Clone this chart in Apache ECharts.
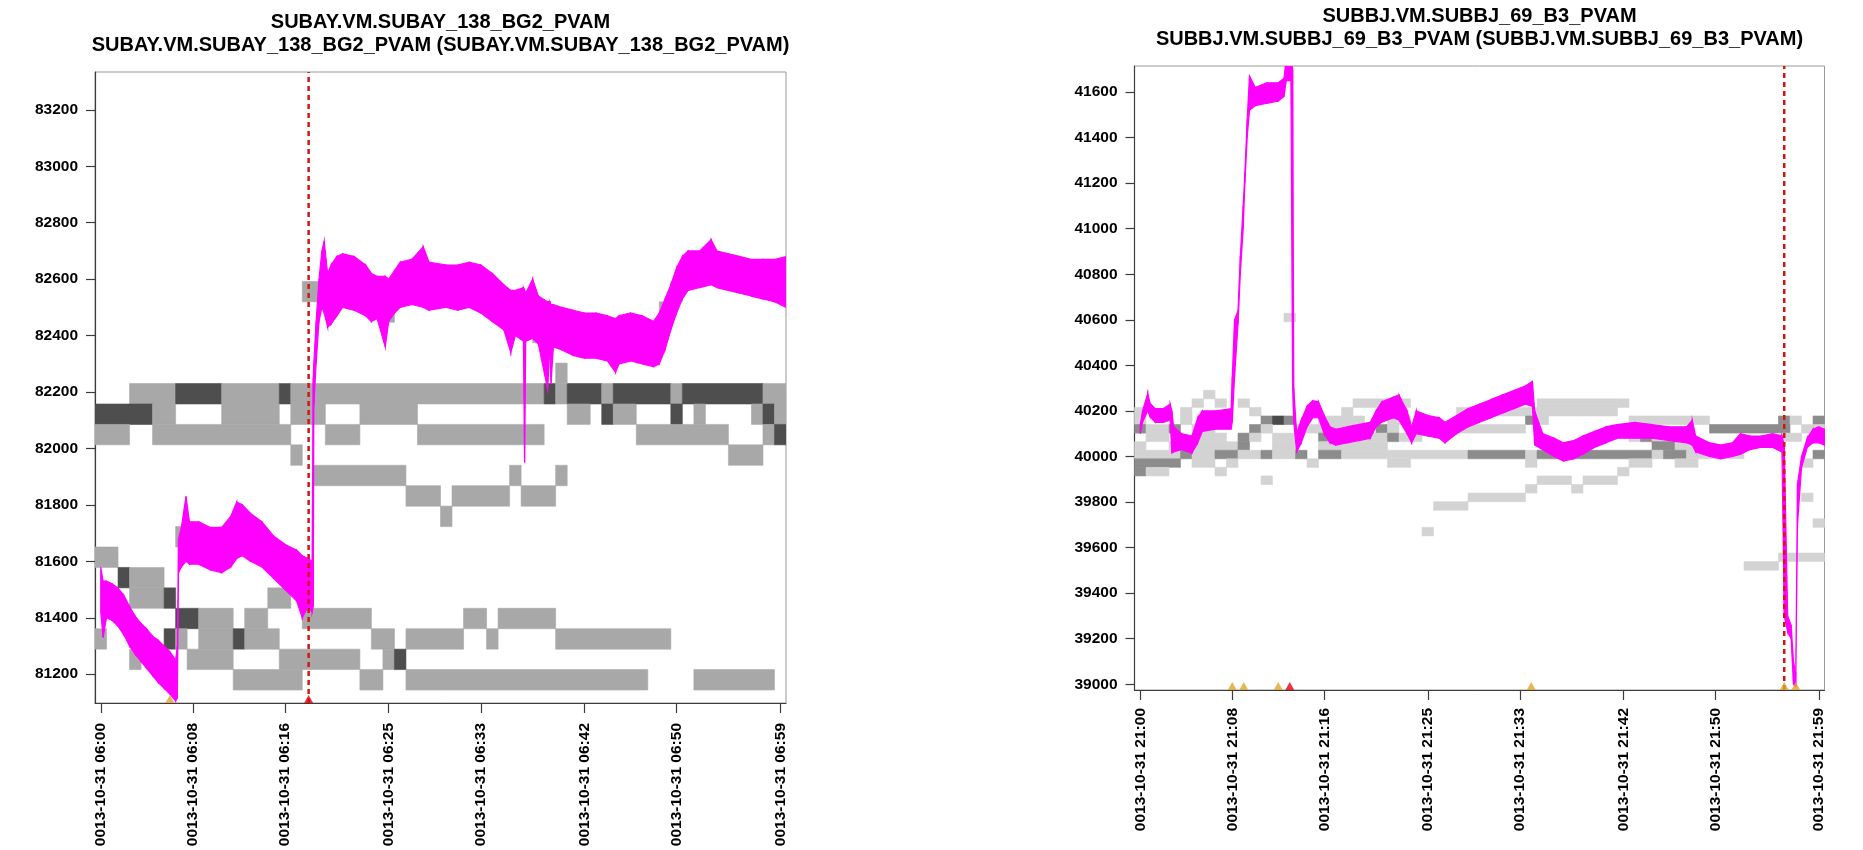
<!DOCTYPE html>
<html><head><meta charset="utf-8">
<script src="https://cdn.jsdelivr.net/npm/echarts@6.0.0/dist/echarts.min.js"></script>
<style>html,body{margin:0;padding:0;background:#fff}#c{width:1863px;height:850px}</style>
</head><body><div id="c"></div>
<script>
// ---------------- DATA ----------------
const leftTitle1 = 'SUBAY.VM.SUBAY_138_BG2_PVAM';
const leftTitle2 = 'SUBAY.VM.SUBAY_138_BG2_PVAM (SUBAY.VM.SUBAY_138_BG2_PVAM)';
const rightTitle1 = 'SUBBJ.VM.SUBBJ_69_B3_PVAM';
const rightTitle2 = 'SUBBJ.VM.SUBBJ_69_B3_PVAM (SUBBJ.VM.SUBBJ_69_B3_PVAM)';

// x tick positions (minutes after the hour) and their labels
const tickMinutes = [0, 8, 16, 25, 33, 42, 50, 59];
const leftTickLabels = ['0013-10-31 06:00','0013-10-31 06:08','0013-10-31 06:16','0013-10-31 06:25','0013-10-31 06:33','0013-10-31 06:42','0013-10-31 06:50','0013-10-31 06:59'];
const rightTickLabels = ['0013-10-31 21:00','0013-10-31 21:08','0013-10-31 21:16','0013-10-31 21:25','0013-10-31 21:33','0013-10-31 21:42','0013-10-31 21:50','0013-10-31 21:59'];
const leftYTicks = [81200, 81400, 81600, 81800, 82000, 82200, 82400, 82600, 82800, 83000, 83200];
const rightYTicks = [39000, 39200, 39400, 39600, 39800, 40000, 40200, 40400, 40600, 40800, 41000, 41200, 41400, 41600];

// value bins of the gray histogram cells
const leftBinStart = 81144, leftBinWidth = 72.4;
const rightBinStart = 39501, rightBinWidth = 37.6;

// gray cells: [binRow, firstMinute, lastMinute, level]
const leftCells = [
 [14,3,6,1],[14,7,10,2],[14,11,15,1],[14,16,16,2],[14,17,38,1],[14,39,39,2],[14,40,40,1],[14,41,43,2],[14,44,44,1],[14,45,49,2],[14,50,50,1],[14,51,57,2],[14,58,59,1],
 [13,0,4,2],[13,5,6,1],[13,11,15,1],[13,17,19,1],[13,23,27,1],[13,41,42,1],[13,44,44,2],[13,45,46,1],[13,50,50,2],[13,52,52,1],[13,57,57,1],[13,58,58,2],[13,59,59,1],
 [12,0,2,1],[12,5,16,1],[12,20,22,1],[12,28,38,1],[12,47,54,1],[12,58,58,1],[12,59,59,2],
 [11,17,17,1],[11,55,57,1],
 [10,19,26,1],[10,36,36,1],[10,40,40,1],
 [9,27,29,1],[9,31,35,1],[9,37,39,1],
 [8,30,30,1],
 [7,7,7,1],
 [6,0,1,1],
 [5,2,2,2],[5,3,5,1],
 [4,3,5,1],[4,6,6,2],[4,15,16,1],
 [3,7,8,2],[3,9,11,1],[3,13,14,1],[3,18,23,1],[3,32,33,1],[3,35,39,1],
 [2,0,0,1],[2,6,6,2],[2,7,7,1],[2,9,11,1],[2,12,12,2],[2,13,15,1],[2,24,25,1],[2,27,31,1],[2,34,34,1],[2,40,49,1],
 [1,3,3,1],[1,8,11,1],[1,16,22,1],[1,25,25,1],[1,26,26,2],
 [0,12,17,1],[0,23,24,1],[0,27,47,1],[0,52,58,1],
 [15,40,40,1],[19,18,19,1],[18,25,25,1],[17,38,38,1],[16,47,48,1],[17,48,48,1],[18,49,49,1],[19,50,50,1],[20,51,51,1]
];
const rightCells = [
 [29,13,13,1],
 [20,6,6,1],
 [19,5,5,1],[19,7,7,1],[19,9,9,1],[19,19,23,1],[19,35,41,1],[19,42,42,1],
 [18,0,0,1],[18,4,4,1],[18,10,10,1],[18,18,18,1],[18,28,34,1],[18,35,41,1],
 [17,0,0,1],[17,4,4,1],[17,11,11,2],[17,12,12,3],[17,13,13,2],[17,16,19,1],[17,22,23,1],[17,34,34,2],[17,35,35,1],[17,43,49,1],[17,56,56,2],[17,57,57,1],[17,59,59,2],
 [16,0,0,2],[16,1,2,1],[16,3,3,2],[16,5,6,1],[16,10,10,2],[16,11,11,1],[16,14,19,1],[16,21,21,2],[16,22,22,1],[16,28,33,1],[16,50,56,2],[16,58,59,1],
 [15,1,2,1],[15,5,7,1],[15,9,9,2],[15,10,10,1],[15,12,13,1],[15,16,17,2],[15,18,21,1],[15,22,22,2],[15,23,24,1],[15,43,43,1],[15,44,44,2],[15,45,47,1],[15,56,57,1],
 [14,0,0,1],[14,3,3,1],[14,5,8,1],[14,9,9,2],[14,12,13,1],[14,16,21,1],[14,45,46,2],[14,47,48,1],
 [13,0,3,1],[13,4,4,2],[13,5,6,1],[13,7,8,2],[13,9,10,1],[13,11,11,2],[13,12,13,1],[13,14,14,2],[13,16,17,2],[13,18,28,1],[13,29,33,2],[13,34,34,1],[13,35,44,2],[13,45,45,1],[13,46,47,2],[13,48,52,1],[13,59,59,2],
 [12,0,3,2],[12,5,6,1],[12,8,8,1],[12,15,15,1],[12,22,23,1],[12,34,34,1],[12,43,44,1],[12,47,48,1],[12,58,58,1],
 [11,0,0,2],[11,1,2,1],[11,7,7,1],[11,42,42,1],
 [10,11,11,1],[10,35,37,1],[10,39,41,1],
 [9,34,34,1],[9,38,38,1],
 [8,29,33,1],[8,58,58,1],
 [7,26,28,1],
 [5,59,59,1],
 [4,25,25,1],
 [1,56,59,1],
 [0,53,55,1]
];

// magenta trace envelope: time (min), low and high of the noisy trace
const leftT  = [0.0,0.2,0.5,1.0,1.5,2.0,2.5,3.0,3.5,4.0,4.5,5.0,5.5,6.0,6.5,6.65,6.75,7.0,7.4,7.7,8.5,9.5,10.5,11.3,11.8,12.3,13.0,14.0,15.0,16.0,17.0,17.5,18.0,18.35,18.45,18.5,18.7,18.95,19.2,19.4,19.7,20.0,20.5,21.0,22.0,23.0,23.5,24.0,24.7,25.0,25.5,26.0,27.0,28.0,28.5,30.0,31.0,32.0,33.0,34.0,35.0,35.6,36.0,36.7,36.8,36.9,37.5,38.0,38.8,39.0,39.1,39.3,40.0,41.0,42.0,43.0,44.0,44.7,45.0,46.0,47.0,48.0,48.5,49.0,49.5,50.0,50.5,51.0,52.0,53.0,53.5,54.5,55.5,56.5,57.5,58.5,59.5];
const leftLo = [81420,81330,81400,81390,81370,81340,81300,81270,81245,81220,81195,81170,81150,81130,81105,81115,81560,81580,81600,81590,81590,81570,81560,81580,81610,81620,81600,81580,81540,81500,81460,81400,81440,81420,81440,82150,82300,82450,82500,82480,82430,82440,82470,82500,82490,82470,82450,82460,82360,82450,82480,82500,82510,82500,82490,82500,82490,82500,82480,82450,82420,82340,82400,82380,81950,82380,82390,82370,82210,82360,82230,82360,82350,82330,82320,82320,82310,82270,82300,82310,82300,82290,82300,82350,82420,82480,82530,82560,82570,82580,82570,82560,82550,82540,82530,82520,82500];
const leftHi = [81580,81530,81530,81520,81505,81480,81440,81405,81380,81360,81335,81320,81300,81280,81250,81300,81680,81720,81830,81740,81740,81720,81720,81760,81810,81800,81770,81740,81690,81660,81640,81620,81610,81600,82250,82300,82450,82600,82700,82735,82620,82650,82680,82690,82680,82650,82620,82610,82610,82600,82630,82660,82670,82715,82660,82650,82650,82660,82650,82620,82580,82560,82560,82570,82560,82550,82600,82540,82520,82520,82510,82510,82500,82490,82480,82480,82470,82460,82470,82480,82470,82450,82480,82530,82580,82640,82680,82700,82700,82740,82700,82690,82680,82670,82670,82670,82680];

const rightT  = [0.0,0.2,0.65,0.85,1.3,2.0,2.6,2.75,2.9,3.6,4.5,5.0,5.4,6.5,7.9,8.0,8.2,8.5,8.7,8.95,9.1,9.3,9.5,10.0,11.0,12.0,12.5,12.7,13.1,13.25,13.35,13.6,14.0,14.5,15.0,15.5,16.0,16.5,17.0,18.0,19.0,20.0,20.5,21.0,22.0,22.5,23.2,23.6,24.0,25.0,26.0,26.5,27.5,28.5,29.5,30.5,31.5,32.5,33.5,34.1,34.3,35.0,36.0,36.8,37.7,38.5,39.5,40.5,41.5,43.0,44.5,46.0,47.5,48.0,48.3,49.5,50.5,51.5,52.2,53.0,54.0,55.0,55.8,56.0,56.3,56.6,56.8,57.0,57.15,57.5,58.0,58.5,59.0,59.5];
const rightLo = [40100,40150,40200,40175,40150,40150,40160,40015,40020,40030,40015,40060,40110,40120,40120,40150,40350,40580,40800,41000,41200,41400,41520,41540,41550,41560,41580,41650,41650,40300,40150,40020,40060,40130,40170,40170,40100,40060,40050,40060,40070,40080,40130,40150,40170,40160,40100,40060,40100,40090,40080,40060,40100,40130,40150,40170,40190,40210,40230,40220,40050,40030,40000,39980,39990,40010,40040,40060,40080,40080,40080,40070,40060,40050,40020,40000,39990,40000,40010,40030,40040,40040,40020,39300,39230,39200,39000,38990,39700,39950,40040,40060,40060,40050];
const rightHi = [40140,40200,40277,40234,40210,40210,40230,40200,40130,40100,40090,40170,40200,40200,40210,40350,40600,40640,40880,41100,41250,41480,41670,41620,41640,41640,41660,41750,41750,41700,40300,40100,40160,40220,40245,40240,40180,40130,40120,40130,40140,40150,40200,40240,40260,40270,40200,40130,40200,40180,40170,40150,40180,40210,40230,40250,40270,40290,40310,40330,40200,40100,40080,40060,40070,40090,40110,40130,40140,40150,40140,40130,40130,40160,40090,40060,40050,40060,40100,40090,40090,40100,40090,40050,39300,39260,39100,39050,39880,40000,40080,40120,40130,40120];

// event markers (minutes)
const leftWarnTimes = [6.0];
const leftAlarmTimes = [18.05];
const leftAlarmLine = 18.05;
const rightWarnTimes = [8.0, 9.0, 12.0, 34.0, 56.0, 57.0];
const rightAlarmTimes = [13.0];
const rightAlarmLine = 56.0;

// ---------------- LAYOUT / STYLE ----------------
const FONT = "'Liberation Sans', Arial, Helvetica, sans-serif";
const X_MIN = -0.5, X_MAX = 59.5;
const L_YMIN = 81098, L_YMAX = 83334;
const R_YMIN = 38975, R_YMAX = 41714;
const leftPalette = {1:'#A8A8A8', 2:'#4E4E4E'};
const rightPalette = {1:'#D3D3D3', 2:'#8C8C8C', 3:'#4A4A4A'};

function cellsData(runs, base, step) {
  return runs.map(r => [r[1] - 0.5, r[2] + 0.5, base + r[0] * step, base + (r[0] + 1) * step, r[3]]);
}
function bandData(t, lo, hi) {
  const out = [];
  for (let i = 0; i < t.length - 1; i++) out.push([t[i], lo[i], hi[i], t[i + 1], lo[i + 1], hi[i + 1]]);
  return out;
}
function cellRenderer(palette) {
  return function (params, api) {
    const p0 = api.coord([api.value(0), api.value(2)]);
    const p1 = api.coord([api.value(1), api.value(3)]);
    const c = palette[api.value(4)];
    return {type: 'rect', shape: {x: p0[0], y: p1[1], width: p1[0] - p0[0], height: p0[1] - p1[1]},
            style: {fill: c, stroke: c, lineWidth: 0.6}};
  };
}
function bandRenderer(params, api) {
  const a = api.coord([api.value(0), api.value(1)]);
  const b = api.coord([api.value(3), api.value(4)]);
  const c = api.coord([api.value(3), api.value(5)]);
  const d = api.coord([api.value(0), api.value(2)]);
  return {type: 'polygon', shape: {points: [a, b, c, d]},
          style: {fill: '#FF00FF', stroke: '#FF00FF', lineWidth: 1.2}};
}

function xAxisDef(gi, labels, margin) {
  return {
    type: 'value', gridIndex: gi, min: X_MIN, max: X_MAX,
    axisLine: {show: true, onZero: false, lineStyle: {color: '#3c3c3c', width: 1.2}},
    axisTick: {show: true, customValues: tickMinutes, length: 10, lineStyle: {color: '#3c3c3c', width: 1.2}},
    axisLabel: {show: true, customValues: tickMinutes, rotate: 90, margin: margin,
      fontSize: 15.5, fontWeight: 'bold', color: '#000', fontFamily: FONT,
      formatter: v => labels[tickMinutes.indexOf(v)] || ''},
    splitLine: {show: false}
  };
}
function yAxisDef(gi, ticks, min, max) {
  return {
    type: 'value', gridIndex: gi, min: min, max: max,
    axisLine: {show: true, onZero: false, lineStyle: {color: '#3c3c3c', width: 1.2}},
    axisTick: {show: true, customValues: ticks, length: 9, lineStyle: {color: '#3c3c3c', width: 1.2}},
    axisLabel: {show: true, customValues: ticks, margin: 17, fontSize: 15.5, fontWeight: 'bold',
      color: '#000', fontFamily: FONT, formatter: v => String(v)},
    splitLine: {show: false}
  };
}
function titleText(x, y, text) {
  return {type: 'text', x: x, y: y, z: 100,
    style: {text: text, font: 'bold 20px ' + FONT, fill: '#000',
      align: 'center', verticalAlign: 'middle', textAlign: 'center', textVerticalAlign: 'middle'}};
}

const chart = echarts.init(document.getElementById('c'));
chart.setOption({
  backgroundColor: '#fff',
  animation: false,
  grid: [
    {left: 95, top: 72, width: 691, height: 631, show: true, borderColor: '#9a9a9a', borderWidth: 1, backgroundColor: 'transparent'},
    {left: 1134.5, top: 66, width: 690, height: 624, show: true, borderColor: '#9a9a9a', borderWidth: 1, backgroundColor: 'transparent'}
  ],
  xAxis: [xAxisDef(0, leftTickLabels, 20), xAxisDef(1, rightTickLabels, 18)],
  yAxis: [yAxisDef(0, leftYTicks, L_YMIN, L_YMAX), yAxisDef(1, rightYTicks, R_YMIN, R_YMAX)],
  graphic: [
    titleText(440.5, 22, leftTitle1), titleText(440.5, 45, leftTitle2),
    titleText(1479.5, 16, rightTitle1), titleText(1479.5, 39, rightTitle2)
  ],
  series: [
    {type: 'custom', xAxisIndex: 0, yAxisIndex: 0, z: 1, clip: true, silent: true,
     renderItem: cellRenderer(leftPalette), data: cellsData(leftCells, leftBinStart, leftBinWidth), encode: {x: [0, 1], y: [2, 3]}},
    {type: 'custom', xAxisIndex: 1, yAxisIndex: 1, z: 1, clip: true, silent: true,
     renderItem: cellRenderer(rightPalette), data: cellsData(rightCells, rightBinStart, rightBinWidth), encode: {x: [0, 1], y: [2, 3]}},
    {type: 'custom', xAxisIndex: 0, yAxisIndex: 0, z: 2, clip: true, silent: true,
     renderItem: bandRenderer, data: bandData(leftT, leftLo, leftHi), encode: {x: [0, 3], y: [1, 2]}},
    {type: 'custom', xAxisIndex: 1, yAxisIndex: 1, z: 2, clip: true, silent: true,
     renderItem: bandRenderer, data: bandData(rightT, rightLo, rightHi), encode: {x: [0, 3], y: [1, 2]}},
    {type: 'line', xAxisIndex: 0, yAxisIndex: 0, z: 3, symbol: 'none', silent: true,
     data: [[leftAlarmLine, L_YMIN], [leftAlarmLine, L_YMAX]],
     lineStyle: {color: '#D41515', width: 2.5, type: [5, 4]}},
    {type: 'line', xAxisIndex: 1, yAxisIndex: 1, z: 3, symbol: 'none', silent: true,
     data: [[rightAlarmLine, R_YMIN], [rightAlarmLine, R_YMAX]],
     lineStyle: {color: '#D41515', width: 2.5, type: [5, 4]}},
    {type: 'scatter', xAxisIndex: 0, yAxisIndex: 0, z: 4, silent: true, symbol: 'triangle', symbolSize: [9, 8], symbolOffset: [0, -4],
     itemStyle: {color: '#E0A42E'}, data: leftWarnTimes.map(t => [t, L_YMIN])},
    {type: 'scatter', xAxisIndex: 0, yAxisIndex: 0, z: 4, silent: true, symbol: 'triangle', symbolSize: [9, 8], symbolOffset: [0, -4],
     itemStyle: {color: '#E8000B'}, data: leftAlarmTimes.map(t => [t, L_YMIN])},
    {type: 'scatter', xAxisIndex: 1, yAxisIndex: 1, z: 4, silent: true, symbol: 'triangle', symbolSize: [9, 8], symbolOffset: [0, -4],
     itemStyle: {color: '#E0A42E'}, data: rightWarnTimes.map(t => [t, R_YMIN])},
    {type: 'scatter', xAxisIndex: 1, yAxisIndex: 1, z: 4, silent: true, symbol: 'triangle', symbolSize: [9, 8], symbolOffset: [0, -4],
     itemStyle: {color: '#E8000B'}, data: rightAlarmTimes.map(t => [t, R_YMIN])}
  ]
});
</script>
</body></html>
